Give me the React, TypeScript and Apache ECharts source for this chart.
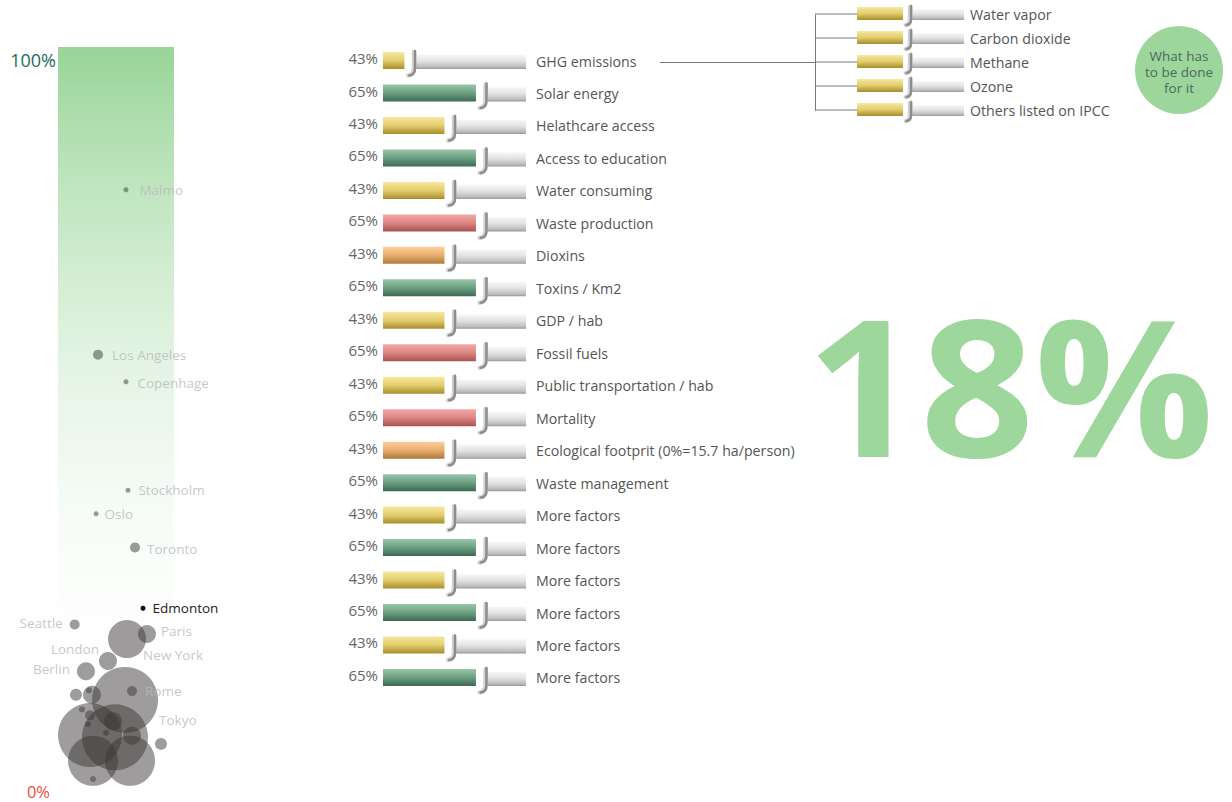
import React, { useEffect, useRef } from "react";
import * as echarts from "echarts";

// ---------- data ----------
const FACTORS = [
  "GHG emissions",
  "Solar energy",
  "Helathcare access",
  "Access to education",
  "Water consuming",
  "Waste production",
  "Dioxins",
  "Toxins / Km2",
  "GDP / hab",
  "Fossil fuels",
  "Public transportation / hab",
  "Mortality",
  "Ecological footprit (0%=15.7 ha/person)",
  "Waste management",
  "More factors",
  "More factors",
  "More factors",
  "More factors",
  "More factors",
  "More factors",
];
const SHOWN_PCT = [43, 65, 43, 65, 43, 65, 43, 65, 43, 65, 43, 65, 43, 65, 43, 65, 43, 65, 43, 65];
const BAR_VALUES = [15, 65, 43, 65, 43, 65, 43, 65, 43, 65, 43, 65, 43, 65, 43, 65, 43, 65, 43, 65];
const KINDS = ["Y", "G", "Y", "G", "Y", "R", "O", "G", "Y", "R", "Y", "R", "O", "G", "Y", "G", "Y", "G", "Y", "G"];

const GASES = ["Water vapor", "Carbon dioxide", "Methane", "Ozone", "Others listed on IPCC"];
const GAS_VALUES = [43, 43, 43, 43, 43];

const CITY_NAMES = [
  "Malmo", "Los Angeles", "Copenhage", "Stockholm", "Oslo", "Toronto", "Edmonton",
  "Seattle", "New York", "Paris", "London", "Berlin", "", "Rome", "Tokyo",
  "", "", "", "", "", "", "", "", "", "", "", "", "", "",
];
const CITY_X = [
  58.6, 34.5, 58.6, 60.3, 32.8, 66.4, 73.3,
  14.4, 59.5, 76.7, 43.1, 24.1, 57.8, 63.8, 88.8,
  15.5, 29.3, 26.7, 20.7, 27.6, 25.9, 27.6, 47.4, 49.1, 63.8, 41.4, 30.2, 62.1, 30.2,
];
const CITY_Y = [
  82.3, 59.8, 56.1, 41.3, 38.1, 33.5, 25.2,
  23.0, 21.0, 21.7, 18.0, 16.6, 12.7, 13.9, 6.7,
  13.4, 13.4, 14.0, 11.4, 10.6, 9.4, 7.9, 9.8, 7.6, 7.8, 8.2, 4.4, 4.4, 1.9,
];
const CITY_SIZE = [
  5, 10, 5, 5, 5, 10, 5,
  10, 38, 18, 18, 18, 66, 10, 12,
  12, 18, 6, 6, 10, 6, 64, 18, 66, 18, 6, 50, 50, 6,
];
const SCALE_TICKS = [0, 100];
const HEADLINE = "18%";
const CALLOUT = "What has\nto be done\nfor it";

// ---------- styles ----------
const FONT = "'Open Sans', sans-serif";
const KIND_LIST = ["Y", "G", "R", "O"];
const KIND_STOPS: Record<string, string[]> = {
  Y: ["#f8e8a0", "#e3cd6c", "#a88d2c"],
  G: ["#98c6a9", "#6c9f81", "#3c6a51"],
  R: ["#f3a8a6", "#dc8684", "#a65350"],
  O: ["#fbd09a", "#e8ad6d", "#ad7a3b"],
};
const LABEL_PLACE: Record<string, { pos: string; d: number; dy: number }> = {
  Malmo: { pos: "right", d: 11, dy: 0 },
  "Los Angeles": { pos: "right", d: 9, dy: 0 },
  Copenhage: { pos: "right", d: 9, dy: 1 },
  Stockholm: { pos: "right", d: 8, dy: 0 },
  Oslo: { pos: "right", d: 6, dy: 0 },
  Toronto: { pos: "right", d: 7, dy: 2 },
  Edmonton: { pos: "right", d: 7, dy: 0 },
  Seattle: { pos: "left", d: 7, dy: -1 },
  Paris: { pos: "right", d: 5, dy: -3 },
  "New York": { pos: "right", d: -3, dy: 16 },
  London: { pos: "left", d: 0, dy: -12 },
  Berlin: { pos: "left", d: 7, dy: -2 },
  Rome: { pos: "right", d: 8, dy: 0 },
  Tokyo: { pos: "right", d: -8, dy: -24 },
};

function grad(stops: string[]) {
  return new echarts.graphic.LinearGradient(0, 0, 0, 1, [
    { offset: 0, color: stops[0] },
    { offset: 0.5, color: stops[1] },
    { offset: 1, color: stops[2] },
  ]);
}

function makeRender(withPct: boolean, withStub: boolean) {
  return (params: any, api: any) => {
    const v = api.value(0);
    const r = api.value(1);
    const kind = KIND_LIST[api.value(3)];
    const p0 = api.coord([0, r]);
    const pe = api.coord([v, r]);
    const pf = api.coord([100, r]);
    const band = api.size([0, 1])[1];
    const h = Math.round(band * 0.53);
    const cy = p0[1] - 0.5;
    const top = cy - h / 2;
    const bot = cy + h / 2;
    const xs = p0[0];
    const xe = pe[0];
    const xf = pf[0];
    const hx = xe + h * 0.62;
    const children: any[] = [
      {
        type: "rect",
        shape: { x: hx + 1, y: top + h * 0.16, width: xf - hx - 1, height: h * 0.84 },
        style: {
          fill: new echarts.graphic.LinearGradient(0, 0, 0, 1, [
            { offset: 0, color: "#f7f7f7" },
            { offset: 0.45, color: "#e2e2e2" },
            { offset: 0.85, color: "#bcbcbc" },
            { offset: 1, color: "#979797" },
          ]),
        },
      },
      {
        type: "path",
        shape: {
          pathData: `M ${hx - 1} ${top} L ${hx - 1} ${bot - 1} Q ${hx - 1} ${bot + h * 0.35} ${hx - h * 0.4} ${bot + h * 0.38}`,
        },
        style: { fill: "none", stroke: "#d4d4d4", lineWidth: 4.5, lineCap: "round" },
      },
      {
        type: "path",
        shape: {
          pathData: `M ${hx} ${top - 1} L ${hx} ${bot - 1} Q ${hx} ${bot + h * 0.35} ${hx - h * 0.35} ${bot + h * 0.38}`,
        },
        style: { fill: "none", stroke: "#8c8c8c", lineWidth: 2.5, lineCap: "round" },
      },
      {
        type: "rect",
        shape: { x: xs, y: top, width: xe - xs, height: h },
        style: { fill: grad(KIND_STOPS[kind]) },
      },
    ];
    if (withPct) {
      children.push({
        type: "text",
        style: {
          text: api.value(2) + "%",
          x: xs - 5,
          y: cy - 2.5,
          align: "right",
          verticalAlign: "middle",
          fill: "#666",
          fontSize: 15,
          fontFamily: FONT,
        },
      });
    }
    if (withStub) {
      children.push({
        type: "line",
        shape: { x1: xs - 42, y1: cy + 0.5, x2: xs, y2: cy + 0.5 },
        style: { stroke: "#777", lineWidth: 1 },
      });
    }
    return { type: "group", children };
  };
}

export default function App() {
  const ref = useRef<HTMLDivElement>(null);

  useEffect(() => {
    if (!ref.current) return;
    const chart = echarts.init(ref.current, null, { renderer: "svg" });

    const cityData = CITY_NAMES.map((name, i) => {
      const place = LABEL_PLACE[name];
      const isEd = name === "Edmonton";
      return {
        name,
        value: [CITY_X[i], CITY_Y[i]],
        symbolSize: CITY_SIZE[i],
        itemStyle: isEd ? { color: "#111", opacity: 1 } : undefined,
        label: place
          ? {
              show: true,
              position: place.pos,
              distance: place.d,
              offset: [0, place.dy],
              color: isEd ? "#222" : "#b8b8bf",
            }
          : { show: false },
      };
    });

    const option: any = {
      animation: false,
      backgroundColor: "#ffffff",
      textStyle: { fontFamily: FONT },
      grid: [
        { left: 383, right: 706, top: 44.8, bottom: 107.8 },
        { left: 857, right: 268, top: 2, bottom: 680 },
        { left: 58, right: 1058, top: 60, bottom: 9 },
      ],
      xAxis: [
        { gridIndex: 0, type: "value", min: 0, max: 100, show: false },
        { gridIndex: 1, type: "value", min: 0, max: 100, show: false },
        { gridIndex: 2, type: "value", min: 0, max: 100, show: false },
      ],
      yAxis: [
        {
          gridIndex: 0,
          type: "category",
          data: FACTORS,
          inverse: true,
          position: "right",
          axisLine: { show: false },
          axisTick: { show: false },
          splitLine: { show: false },
          axisLabel: { margin: 10, color: "#555", fontSize: 14.2, fontFamily: FONT },
        },
        {
          gridIndex: 1,
          type: "category",
          data: GASES,
          inverse: true,
          position: "right",
          axisLine: { show: false },
          axisTick: { show: false },
          splitLine: { show: false },
          axisLabel: { margin: 6, color: "#555", fontSize: 14.2, fontFamily: FONT },
        },
        {
          gridIndex: 2,
          type: "value",
          min: SCALE_TICKS[0],
          max: SCALE_TICKS[1],
          interval: SCALE_TICKS[1] - SCALE_TICKS[0],
          axisLine: { show: false },
          axisTick: { show: false },
          splitLine: { show: false },
          axisLabel: {
            margin: 2,
            formatter: (v: number) => (v === SCALE_TICKS[1] ? `{hi|${v}%}` : `{lo|${v}%}`),
            rich: {
              hi: { color: "#216b5d", fontSize: 18, fontFamily: FONT },
              lo: { color: "#f04c3a", fontSize: 16.5, fontFamily: FONT, padding: [0, 6, 4, 0] },
            },
          },
        },
      ],
      graphic: [
        {
          type: "rect",
          z: 0,
          shape: { x: 58, y: 47, width: 116, height: 660 },
          style: {
            fill: new echarts.graphic.LinearGradient(0, 0, 0, 1, [
              { offset: 0, color: "#98d597" },
              { offset: 1, color: "rgba(255,255,255,0)" },
            ]),
          },
        },
        { type: "line", shape: { x1: 815.5, y1: 14.5, x2: 815.5, y2: 110.5 }, style: { stroke: "#777", lineWidth: 1 } },
        { type: "line", shape: { x1: 660, y1: 62.5, x2: 815.5, y2: 62.5 }, style: { stroke: "#777", lineWidth: 1 } },
        { type: "circle", shape: { cx: 1179, cy: 70, r: 44 }, style: { fill: "#9cd69b" } },
        {
          type: "text",
          style: {
            text: CALLOUT,
            x: 1179,
            y: 72,
            align: "center",
            verticalAlign: "middle",
            fill: "#4b6a5c",
            fontSize: 13.5,
            lineHeight: 16,
            fontFamily: FONT,
          },
        },
        {
          type: "text",
          x: 1010,
          y: 383,
          scaleX: 1.05,
          style: {
            text: HEADLINE,
            x: 0,
            y: 0,
            align: "center",
            verticalAlign: "middle",
            fill: "#9dd79c",
            fontSize: 190,
            fontWeight: "bold",
            fontFamily: FONT,
          },
        },
      ],
      series: [
        {
          type: "custom",
          xAxisIndex: 0,
          yAxisIndex: 0,
          encode: { x: 0, y: 1 },
          clip: false,
          data: BAR_VALUES.map((v, i) => [v, i, SHOWN_PCT[i], KIND_LIST.indexOf(KINDS[i])]),
          renderItem: makeRender(true, false),
        },
        {
          type: "custom",
          xAxisIndex: 1,
          yAxisIndex: 1,
          encode: { x: 0, y: 1 },
          clip: false,
          data: GAS_VALUES.map((v, i) => [v, i, v, 0]),
          renderItem: makeRender(false, true),
        },
        {
          type: "scatter",
          xAxisIndex: 2,
          yAxisIndex: 2,
          z: 3,
          itemStyle: { color: "rgba(58,54,54,0.62)" },
          label: { show: true, formatter: "{b}", fontSize: 13.5, fontFamily: FONT, color: "#b8b8bf" },
          emphasis: { disabled: true },
          data: cityData,
        },
      ],
    };

    chart.setOption(option);
    return () => chart.dispose();
  }, []);

  return (
    <div
      ref={ref}
      style={{ position: "absolute", left: 0, top: 0, width: 1232, height: 802 }}
    />
  );
}
